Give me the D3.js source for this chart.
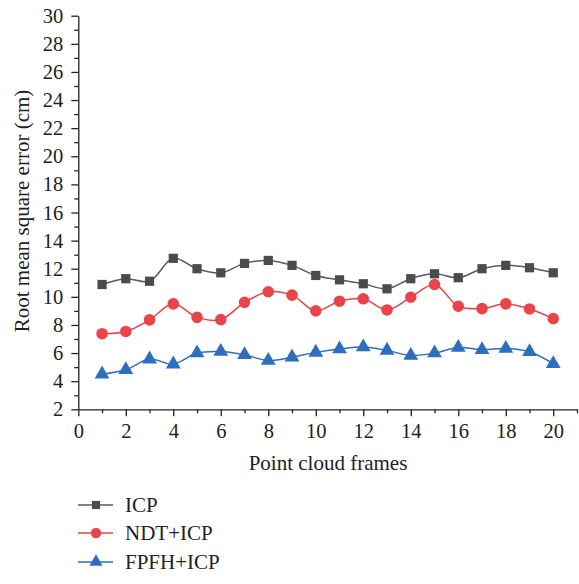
<!DOCTYPE html>
<html><head><meta charset="utf-8">
<script src="https://cdn.jsdelivr.net/npm/d3@7"></script>
<style>body{margin:0;background:#fff}svg{display:block}text{font-family:"Liberation Serif","Times New Roman",serif;fill:#222}</style>
</head><body>
<svg id="c" width="579" height="584"></svg>
<script>
const frames = d3.range(1, 21);
const icp  = [10.88,11.29,11.11,12.74,12.0,11.71,12.38,12.59,12.24,11.52,11.21,10.93,10.57,11.29,11.64,11.36,12.0,12.24,12.07,11.71];
const ndt  = [7.38,7.54,8.36,9.5,8.54,8.38,9.61,10.36,10.12,9.0,9.69,9.86,9.07,9.97,10.88,9.33,9.16,9.5,9.14,8.45];
const fpfh = [4.5,4.81,5.57,5.21,6.0,6.11,5.88,5.47,5.71,6.05,6.29,6.43,6.19,5.83,6.0,6.4,6.24,6.33,6.09,5.24];
const seriesNames = ["ICP","NDT+ICP","FPFH+ICP"];
const xTicks = d3.range(0, 21, 2);
const yTicks = d3.range(2, 31, 2);

const svg = d3.select("#c");
const x = d3.scaleLinear().domain([0, 21]).range([78.3, 577]);
const y = d3.scaleLinear().domain([2, 30]).range([409.3, 15.7]);
const fs = 20.5, tfs = 21;

// minor ticks
svg.append("g").attr("transform",`translate(0,${y(2)})`)
  .call(d3.axisBottom(x).tickValues(d3.range(1,22,2)).tickSize(4).tickFormat(""))
  .call(g=>g.select(".domain").remove());
svg.append("g").attr("transform",`translate(${x(0)},0)`)
  .call(d3.axisLeft(y).tickValues(d3.range(3,30,2)).tickSize(4).tickFormat(""))
  .call(g=>g.select(".domain").remove());

const xa = svg.append("g").attr("transform",`translate(0,${y(2)})`)
  .call(d3.axisBottom(x).tickValues(xTicks).tickSize(7).tickSizeOuter(0).tickPadding(7));
const ya = svg.append("g").attr("transform",`translate(${x(0)},0)`)
  .call(d3.axisLeft(y).tickValues(yTicks).tickSize(7).tickSizeOuter(0).tickPadding(8));
[xa, ya].forEach(a=>{
  a.selectAll("text").style("font-size", fs+"px").style("font-family",'"Liberation Serif",serif').attr("fill","#222");
  a.selectAll("line,path").attr("stroke","#222").attr("stroke-width",1.3);
});
svg.selectAll("g .tick line").attr("stroke","#222").attr("stroke-width",1.3);

svg.append("text").attr("x", 328).attr("y", 470).attr("text-anchor","middle").style("font-size",tfs+"px").text("Point cloud frames");
svg.append("text").attr("transform","translate(29,211) rotate(-90)").attr("text-anchor","middle").style("font-size",tfs+"px").text("Root mean square error (cm)");

const colors = ["#4b4b4b","#e8444a","#2f6dbd"];
const lineColors = ["#5a5a5a","#e8444a","#2f6dbd"];
const data = [icp, ndt, fpfh];
const line = d3.line().x((d,i)=>x(frames[i])).y(d=>y(d)).curve(d3.curveCatmullRom.alpha(0.5));
const shapes = [d3.symbolSquare, d3.symbolCircle, d3.symbolTriangle];
const sizes = [85, 105, 95];

data.forEach((s,k)=>{
  svg.append("path").datum(s).attr("d", line).attr("fill","none").attr("stroke", lineColors[k]).attr("stroke-width",1.5);
  svg.append("g").selectAll("path").data(s).join("path")
    .attr("transform",(d,i)=>`translate(${x(frames[i])},${y(d)})`)
    .attr("d", d3.symbol().type(shapes[k]).size(sizes[k]))
    .attr("fill", colors[k]);
});

// legend
const ly = [505, 533, 562];
seriesNames.forEach((n,k)=>{
  const g = svg.append("g").attr("transform",`translate(0,${ly[k]})`);
  g.append("line").attr("x1",78).attr("x2",113).attr("stroke",lineColors[k]).attr("stroke-width",1.5);
  g.append("path").attr("transform","translate(96,0)").attr("d", d3.symbol().type(shapes[k]).size(sizes[k]*0.8)).attr("fill",colors[k]);
  g.append("text").attr("x",125).attr("y",7).style("font-size",tfs+"px").text(n);
});
</script>
</body></html>
